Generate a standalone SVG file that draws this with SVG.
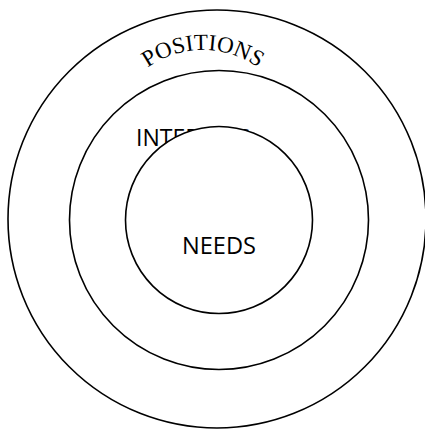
<svg xmlns="http://www.w3.org/2000/svg" width="425" height="429" viewBox="0 0 425 429">
<style>
.ring{fill:#fff;stroke:#000;stroke-width:1.6}
.lbl{font-family:"Open Sans","Noto Sans","Liberation Sans",sans-serif;font-size:23px;fill:#000}
.arc{font-family:"Liberation Serif","DejaVu Serif",serif;font-size:23px;fill:#000}
</style>
<defs>
<path id="posArc" d="M135.8,77.8 A95,95 0 0 1 270.2,77.8" fill="none"/>
</defs>
<rect width="425" height="429" fill="#fff"/>
<g id="positions">
<circle class="ring" cx="217" cy="219" r="209"/>
<text class="arc" text-anchor="middle"><textPath href="#posArc" startOffset="50%">POSITIONS</textPath></text>
</g>
<g id="interests">
<circle class="ring" cx="219" cy="220" r="149.5"/>
<text class="lbl" x="136" y="146">INTERESTS</text>
</g>
<g id="needs">
<circle class="ring" cx="219" cy="220" r="93.5"/>
<text class="lbl" x="182" y="254" textLength="74" lengthAdjust="spacingAndGlyphs">NEEDS</text>
</g>
</svg>
